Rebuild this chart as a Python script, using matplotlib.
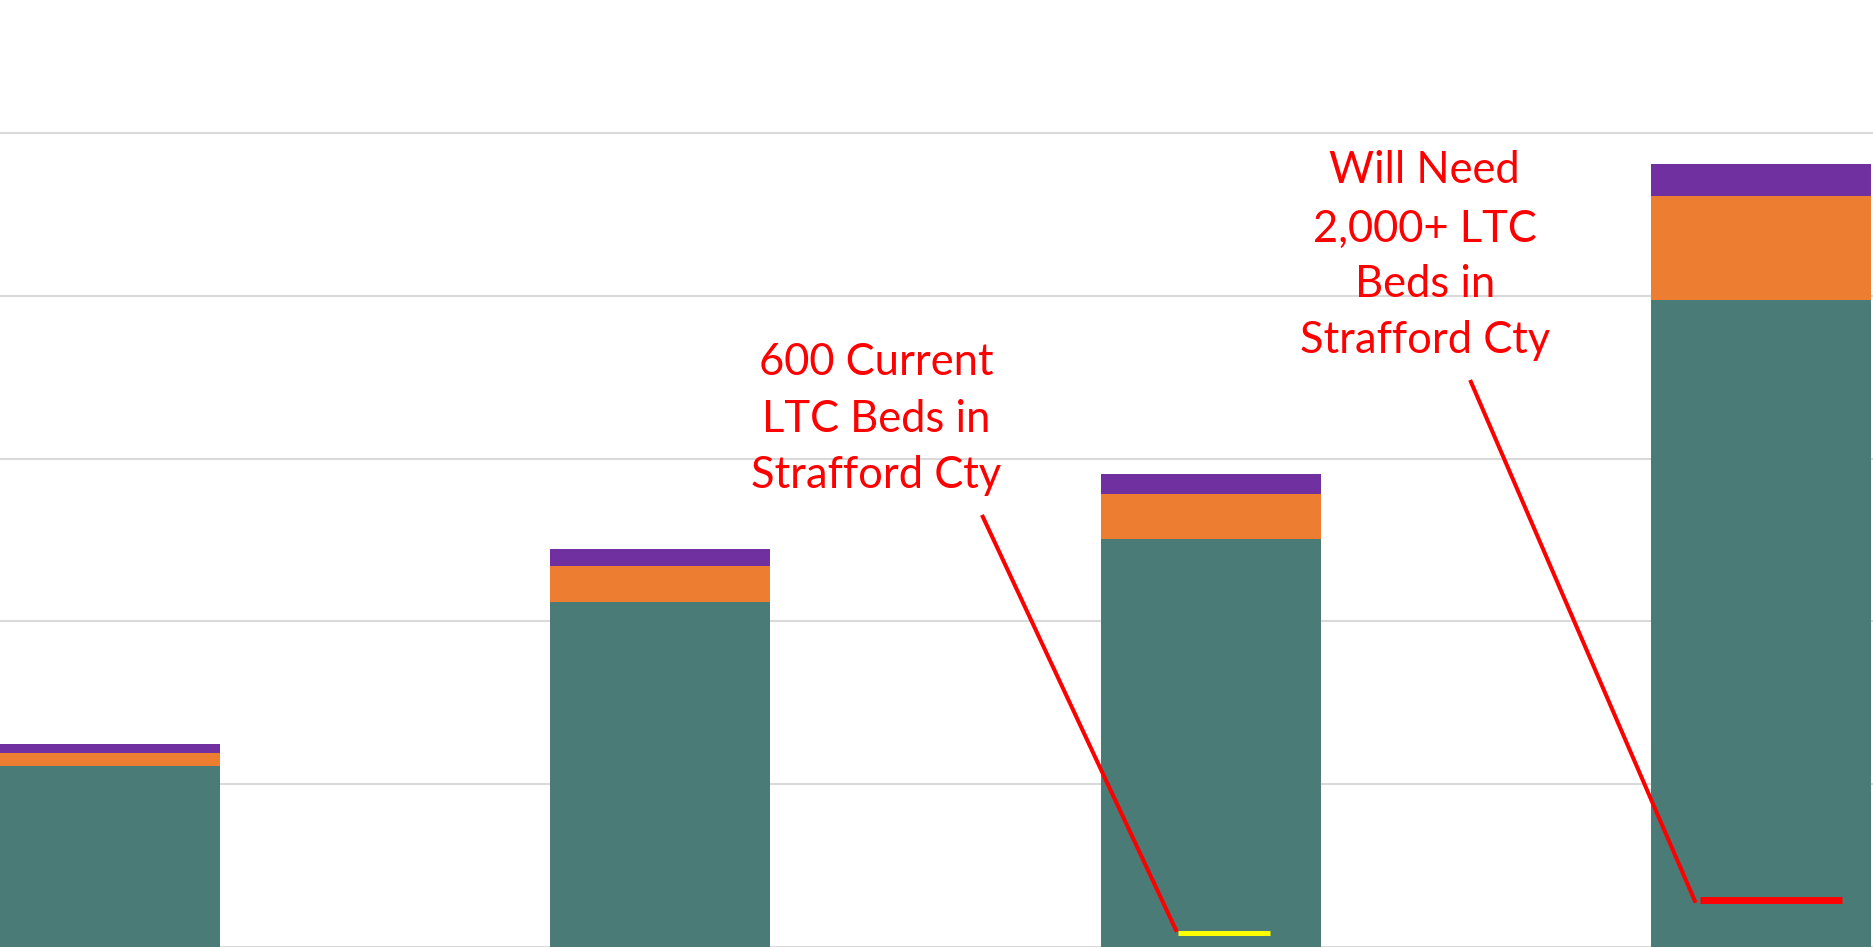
import matplotlib
matplotlib.use("Agg")
import matplotlib.pyplot as plt

# ---- data ----
groups = ["A", "B", "C", "D"]
teal_vals = [7800, 14850, 17530, 27830]
orange_vals = [560, 1550, 1940, 4460]
purple_vals = [390, 730, 860, 1390]

current_beds = 600
needed_beds = 2000

label_current = ["600 Current", "LTC Beds in", "Strafford Cty"]
label_needed = ["Will Need", "2,000+ LTC", "Beds in", "Strafford Cty"]

grid_step = 7000

# ---- figure ----
W, H, DPI = 1874, 947, 100
fig = plt.figure(figsize=(W / DPI, H / DPI), dpi=DPI)
ax = fig.add_axes([0, 0, 1, 1])

bar_w = 0.4
x = list(range(len(groups)))
teal_c, orange_c, purple_c = "#4A7B77", "#ED7D31", "#7030A0"

bottom2 = [a + b for a, b in zip(teal_vals, orange_vals)]
ax.bar(x, teal_vals, width=bar_w, color=teal_c, zorder=2)
ax.bar(x, orange_vals, width=bar_w, bottom=teal_vals, color=orange_c, zorder=2)
ax.bar(x, purple_vals, width=bar_w, bottom=bottom2, color=purple_c, zorder=2)

ax.set_xlim(-0.2, 3.2055)
ax.set_ylim(0, 40720)
ax.set_yticks([grid_step * i for i in range(6)])
ax.yaxis.grid(True, color="#D9D9D9", linewidth=1.5, zorder=0)
ax.set_axisbelow(True)
for s in ax.spines.values():
    s.set_visible(False)
ax.tick_params(left=False, bottom=False, labelleft=False, labelbottom=False)

# ---- annotations ----
# horizontal marker lines (bed counts)
ax.plot([1.940, 2.107], [current_beds, current_beds], color="#FFFF00",
        linewidth=3.6, solid_capstyle="butt", zorder=4)
ax.plot([2.889, 3.147], [needed_beds, needed_beds], color="#FF0000",
        linewidth=5.0, solid_capstyle="butt", zorder=4)
# leader lines
ax.plot([1.586, 1.937], [18500, 730], color="#FF0000", linewidth=2.9, zorder=4)
ax.plot([2.473, 2.880], [24300, 1980], color="#FF0000", linewidth=2.9, zorder=4)

# text, sized so "Strafford Cty" spans ~250 px
fam = "Lato"
probe = ax.text(0, 0, "Strafford Cty", fontsize=30, family=fam)
fig.canvas.draw()
wpx = probe.get_window_extent(fig.canvas.get_renderer()).width
probe.remove()
fs = 30 * 250 / wpx

for line, yb in zip(label_current, [24595, 22157, 19735]):
    ax.text(1.392, yb, line, ha="center", va="baseline", fontsize=fs,
            family=fam, color="#FF0000", zorder=5)
for line, yb in zip(label_needed, [32850, 30326, 27961, 25541]):
    ax.text(2.389, yb, line, ha="center", va="baseline", fontsize=fs,
            family=fam, color="#FF0000", zorder=5)

fig.savefig("out.png", dpi=DPI, facecolor="white")
